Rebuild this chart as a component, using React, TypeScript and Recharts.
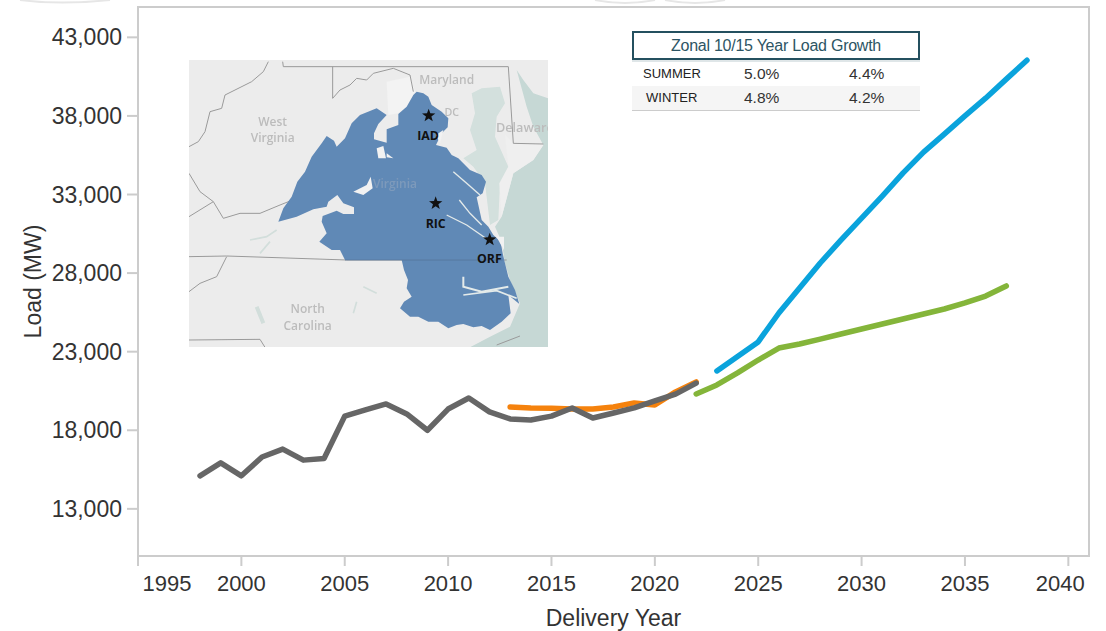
import React from "react";
import { LineChart, Line, XAxis, YAxis, ReferenceArea } from "recharts";

const FONT = "'Liberation Sans', Arial, sans-serif";

const historyYears = [1998, 1999, 2000, 2001, 2002, 2003, 2004, 2005, 2006, 2007, 2008, 2009, 2010, 2011, 2012, 2013, 2014, 2015, 2016, 2017, 2018, 2019, 2020, 2021, 2022];
const historyLoad = [15100, 15925, 15100, 16300, 16800, 16100, 16200, 18900, 19300, 19675, 19040, 18000, 19350, 20050, 19170, 18720, 18650, 18900, 19420, 18780, 19100, 19420, 19870, 20300, 21000];

const weatherYears = [2013, 2014, 2015, 2016, 2017, 2018, 2019, 2020, 2021, 2022];
const weatherLoad = [19480, 19420, 19400, 19360, 19360, 19480, 19740, 19610, 20440, 21075];

const summerYears = [2023, 2024, 2025, 2026, 2027, 2028, 2029, 2030, 2031, 2032, 2033, 2034, 2035, 2036, 2037, 2038];
const summerLoad = [21773, 22700, 23620, 25460, 27050, 28640, 30100, 31500, 32900, 34360, 35700, 36840, 38000, 39130, 40340, 41540];

const winterYears = [2022, 2023, 2024, 2025, 2026, 2027, 2028, 2029, 2030, 2031, 2032, 2033, 2034, 2035, 2036, 2037];
const winterLoad = [20310, 20880, 21650, 22470, 23230, 23490, 23800, 24125, 24440, 24760, 25080, 25400, 25715, 26100, 26540, 27180];

const xTicks = [1995, 2000, 2005, 2010, 2015, 2020, 2025, 2030, 2035, 2040];
const yTicks = [13000, 18000, 23000, 28000, 33000, 38000, 43000];

const tableTitle = "Zonal 10/15 Year Load Growth";
const tableRows = [
  ["SUMMER", "5.0%", "4.4%"],
  ["WINTER", "4.8%", "4.2%"],
];

const pairs = (xs: number[], ys: number[]) => xs.map((year, i) => ({ year, load: ys[i] }));

const XTick = (props: any) => {
  const { x, y, payload } = props;
  const shift = payload.value === 1995 ? 29 : payload.value === 2040 ? -8 : 0;
  return (
    <text x={x + shift} y={y + 23} textAnchor="middle" fontSize={22} fontFamily={FONT} fill="#333">
      {payload.value}
    </text>
  );
};

const Star = ({ cx, cy }: { cx: number; cy: number }) => {
  const pts: string[] = [];
  for (let i = 0; i < 10; i++) {
    const r = i % 2 === 0 ? 21 : 8.5;
    const a = -Math.PI / 2 + (i * Math.PI) / 5;
    pts.push(`${cx + r * Math.cos(a)},${cy + r * Math.sin(a)}`);
  }
  return <polygon points={pts.join(" ")} fill="#111" />;
};

const MapInset = () => (
  <svg
    viewBox="0 0 1140 930"
    width={380}
    height={310}
    style={{ position: "absolute", left: 180, top: 50 }}
  >
    <defs>
      <filter id="soft"><feGaussianBlur stdDeviation="2" /></filter>
      <clipPath id="frame"><rect x="27" y="30" width="1077" height="861" /></clipPath>
    </defs>
    <g clipPath="url(#frame)">
      <rect x="27" y="30" width="1077" height="861" fill="#ececec" />
      <g filter="url(#soft)">
        <polygon fill="#c6d8d5" points="1104,145 1060,130 1030,90 1010,60 1040,170 1060,230 1090,285 1060,330 1000,370 965,500 945,530 965,575 975,640 990,690 1020,760 990,830 930,860 870,892 1104,892" />
        <polygon fill="#d3e0dd" points="875,130 905,115 960,110 975,160 950,200 945,260 985,350 960,400 955,510 930,525 915,400 880,350 850,325 890,300 870,240 885,190" />
        <polygon fill="#efefef" points="975,255 1000,280 1090,285 1060,330 1000,370 965,500 958,400 985,350" />
        <polygon fill="#f3f3f3" points="620,95 690,80 705,125 680,170 655,190 625,195" />
        <g fill="none" stroke="#9a9a9a" strokeWidth="3">
          <polyline points="308,35 310,50 985,50 1000,280 1090,282" />
          <polyline points="458,50 458,145 480,120 510,105 530,85 560,90 580,70 640,55 690,75 700,125" />
          <polyline points="27,290 55,275 75,245 90,185 125,175 135,135 165,120 215,95 250,65 265,35" />
          <polyline points="27,370 60,425 100,455 130,505 180,490 240,490 300,465 350,445" />
          <polyline points="27,500 100,455" />
          <polyline points="27,620 140,618 500,630 980,630" />
          <polyline points="27,725 60,700 110,680 140,620" />
          <polyline points="27,870 240,868 255,892" />
          <polyline points="950,885 1020,858" />
        </g>
        <g fill="none" stroke="#d2dedb" strokeWidth="5">
          <polyline points="210,570 260,560 290,540" />
          <polyline points="240,610 270,575" />
          <polyline points="230,770 250,820" strokeWidth="12" />
          <polyline points="550,710 590,730" />
          <polyline points="520,790 530,755" />
        </g>
        <polygon
          fill="#6189b6"
          points="710,125 730,130 745,140 755,165 785,185 805,205 803,232 785,250 768,285 800,293 815,315 835,325 870,360 905,375 918,395 908,430 890,442 905,510 925,530 940,555 962,575 968,610 975,640 985,680 1005,720 1018,762 985,735 992,790 965,815 930,840 905,828 880,832 850,822 830,825 805,835 775,815 745,815 715,800 690,800 660,775 672,755 695,740 680,715 684,690 672,660 665,630 495,630 480,600 455,600 418,575 440,550 425,515 428,498 470,482 490,492 522,492 522,472 490,460 472,435 445,455 440,470 400,478 350,500 295,515 310,475 335,440 352,395 375,365 395,320 425,280 440,258 462,272 470,290 495,265 515,220 540,195 590,175 620,195 595,222 582,250 582,268 620,278 620,238 655,225 655,192 680,170 700,135"
        />
        <g fill="#f2f2f2" stroke="none">
          <polygon points="590,295 610,288 618,325 595,325" />
          <polygon points="620,310 640,325 620,322" />
          <polygon points="520,425 560,405 572,380 578,415 550,435" />
          <polygon points="768,255 790,240 780,280" />
          <polygon points="950,560 972,560 972,600 960,580" />
        </g>
        <g fill="none" stroke="#e4ebea" strokeWidth="4">
          <polyline points="820,365 860,400 900,435" />
          <polyline points="838,450 870,490 905,525" />
          <polyline points="800,495 860,525 925,570" />
          <polyline points="850,680 850,710 905,725 985,710" strokeWidth="6" />
          <polyline points="850,735 950,722 1010,745" strokeWidth="5" />
        </g>
        <polyline points="495,630 968,630" fill="none" stroke="#4e6f94" strokeWidth="2" />
        <g fontFamily="'Open Sans', sans-serif" fill="#bcbcbc" fontSize="36" fontWeight="600" textAnchor="middle">
          <text x="278" y="227">West</text>
          <text x="278" y="277">Virginia</text>
          <text x="800" y="103">Maryland</text>
          <text x="948" y="245" textAnchor="start" fontSize="38">Delaware</text>
          <text x="645" y="413" fill="#7d9abb">Virginia</text>
          <text x="383" y="789">North</text>
          <text x="383" y="841">Carolina</text>
          <text x="815" y="197" fontSize="32">DC</text>
        </g>
      </g>
      <Star cx={746} cy={197} />
      <Star cx={767} cy={460} />
      <Star cx={929} cy={569} />
      <g fontFamily="'Open Sans', sans-serif" fill="#111" fontSize="37" fontWeight="700" textAnchor="middle">
        <text x="744" y="269">IAD</text>
        <text x="767" y="533">RIC</text>
        <text x="928" y="640">ORF</text>
      </g>
    </g>
  </svg>
);

const GrowthTable = () => (
  <div style={{ position: "absolute", left: 632, top: 31, width: 288, fontFamily: FONT, color: "#333" }}>
    <div
      style={{
        boxSizing: "border-box",
        height: 29,
        border: "2px solid #24505f",
        textAlign: "center",
        fontSize: 16,
        lineHeight: "25px",
        color: "#2d5564",
        letterSpacing: "-0.25px",
      }}
    >
      {tableTitle}
    </div>
    <div style={{ height: 2, background: "#dfe6e8" }} />
    {tableRows.map((row, i) => (
      <div
        key={row[0]}
        style={{
          position: "relative",
          height: 24,
          lineHeight: "24px",
          background: i === 1 ? "#f5f5f5" : "#fff",
          borderBottom: i === 1 ? "1px solid #ccc" : "none",
        }}
      >
        <span style={{ position: "absolute", left: i === 0 ? 11 : 14, fontSize: 13, color: "#222" }}>{row[0]}</span>
        <span style={{ position: "absolute", left: 112, fontSize: 15.5 }}>{row[1]}</span>
        <span style={{ position: "absolute", left: 217, fontSize: 15.5 }}>{row[2]}</span>
      </div>
    ))}
  </div>
);

const Remnants = () => (
  <svg width={1106} height={6} style={{ position: "absolute", left: 0, top: 0 }}>
    <g fill="none" stroke="#e6e6e6" strokeWidth="2">
      <path d="M20 0 Q60 5 110 0" />
      <path d="M595 0 Q625 6 655 0 M665 0 Q695 6 725 0" />
    </g>
  </svg>
);

const lineProps = {
  dataKey: "load",
  strokeWidth: 5.5,
  dot: false,
  isAnimationActive: false,
  strokeLinecap: "round",
  strokeLinejoin: "round",
} as any;

export default function App() {
  return (
    <div style={{ position: "absolute", left: 0, top: 0, width: 1106, height: 631, background: "#fff", overflow: "hidden" }}>
      <LineChart width={1106} height={631} margin={{ top: 7, right: 17, bottom: 0, left: 0 }}>
        <XAxis
          dataKey="year"
          type="number"
          domain={[1995, 2041]}
          ticks={xTicks}
          interval={0}
          allowDataOverflow
          tick={<XTick />}
          tickSize={10}
          axisLine={{ stroke: "#cccccc", strokeWidth: 2 }}
          tickLine={{ stroke: "#cccccc", strokeWidth: 2 }}
          height={75}
          label={{ value: "Delivery Year", position: "insideBottom", offset: 5, fontSize: 23, fontFamily: FONT, fill: "#333" }}
        />
        <YAxis
          dataKey="load"
          type="number"
          domain={[10000, 44930]}
          ticks={yTicks}
          interval={0}
          allowDataOverflow
          width={138}
          tickSize={11}
          tickMargin={5}
          tickFormatter={(v: number) => v.toLocaleString("en-US")}
          tick={{ fontSize: 23, fontFamily: FONT, fill: "#333" }}
          axisLine={{ stroke: "#cccccc", strokeWidth: 2 }}
          tickLine={{ stroke: "#cccccc", strokeWidth: 2 }}
          label={{ value: "Load (MW)", angle: -90, position: "insideLeft", offset: 33, fontSize: 23, fontFamily: FONT, fill: "#333", textAnchor: "middle" }}
        />
        <ReferenceArea x1={1995} x2={2041} y1={10000} y2={44930} fill="none" stroke="#cccccc" strokeWidth={2} ifOverflow="visible" />
        <Line {...lineProps} data={pairs(weatherYears, weatherLoad)} stroke="#f5820d" />
        <Line {...lineProps} data={pairs(historyYears, historyLoad)} stroke="#666666" />
        <Line {...lineProps} data={pairs(summerYears, summerLoad)} stroke="#0aa3dc" />
        <Line {...lineProps} data={pairs(winterYears, winterLoad)} stroke="#84b53a" />
      </LineChart>
      <MapInset />
      <GrowthTable />
      <Remnants />
    </div>
  );
}
